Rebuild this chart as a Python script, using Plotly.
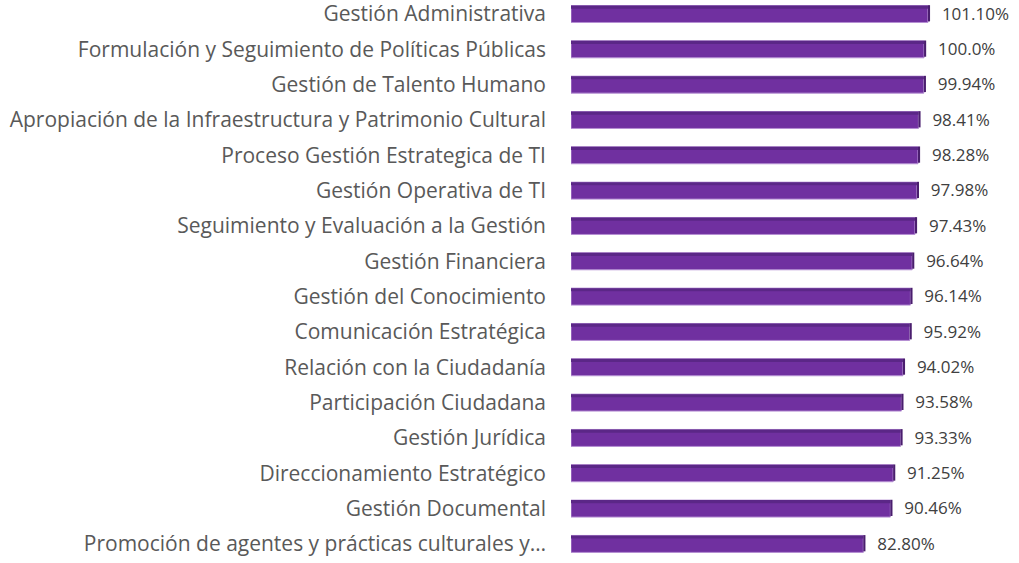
"""
Cumplimiento por proceso: horizontal bars with a light 3D look.
"""
import plotly.graph_objects as go

procesos = [
    "Gestión Administrativa",
    "Formulación y Seguimiento de Políticas Públicas",
    "Gestión de Talento Humano",
    "Apropiación de la Infraestructura y Patrimonio Cultural",
    "Proceso Gestión Estrategica de TI",
    "Gestión Operativa de TI",
    "Seguimiento y Evaluación a la Gestión",
    "Gestión Financiera",
    "Gestión del Conocimiento",
    "Comunicación Estratégica",
    "Relación con la Ciudadanía",
    "Participación Ciudadana",
    "Gestión Jurídica",
    "Direccionamiento Estratégico",
    "Gestión Documental",
    "Promoción de agentes y prácticas culturales y…",
]
cumplimiento = [101.10, 100.0, 99.94, 98.41, 98.28, 97.98, 97.43, 96.64,
                96.14, 95.92, 94.02, 93.58, 93.33, 91.25, 90.46, 82.80]
etiquetas = ["101.10%", "100.0%", "99.94%", "98.41%", "98.28%", "97.98%", "97.43%", "96.64%",
             "96.14%", "95.92%", "94.02%", "93.58%", "93.33%", "91.25%", "90.46%", "82.80%"]

PURPLE = "#7030A0"
TOP = "#5B2787"
DARK = "#4A1E6E"

fig = go.Figure()
# front face
fig.add_trace(go.Bar(
    y=procesos, x=cumplimiento, orientation="h", width=0.48,
    marker=dict(color=PURPLE, line=dict(color="#B58FD3", width=1)),
    hoverinfo="skip", showlegend=False,
))
# top face (thin darker strip)
fig.add_trace(go.Bar(
    y=procesos, x=cumplimiento, orientation="h", width=0.09, offset=-0.24,
    marker=dict(color=TOP, line=dict(width=0)),
    hoverinfo="skip", showlegend=False,
))
# right side cap (depth) + value labels
fig.add_trace(go.Bar(
    y=procesos, x=[0.6] * len(cumplimiento), base=cumplimiento, orientation="h", width=0.46,
    offset=-0.25,
    marker=dict(color=DARK, line=dict(width=0)),
    text=["  " + t for t in etiquetas], textposition="outside", cliponaxis=False,
    constraintext="none",
    textfont=dict(family="Open Sans", size=17, color="#404040"),
    hoverinfo="skip", showlegend=False,
))

fig.update_layout(
    width=1019, height=563,
    margin=dict(l=571, r=42, t=0, b=0),
    paper_bgcolor="white", plot_bgcolor="white",
    barmode="overlay",
    font=dict(family="Open Sans", size=20, color="#595959"),
)
fig.update_xaxes(range=[0, 115], visible=False)
fig.update_yaxes(
    type="category", range=[15.54, -0.396], automargin=False,
    showgrid=False, zeroline=False, showline=False, ticks="", ticklabelstandoff=24,
    tickfont=dict(family="Open Sans", size=21, color="#595959"),
)

fig.write_html(
    "out.html",
    config={"displayModeBar": False},
    post_script="document.body.style.margin='0';",
)
